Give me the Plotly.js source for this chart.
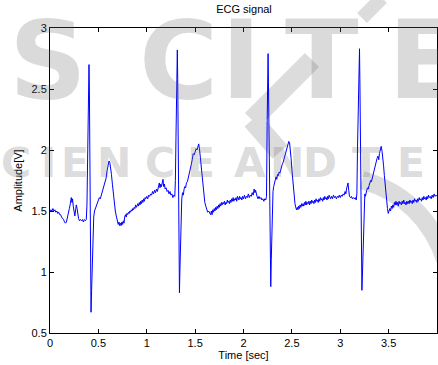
<!DOCTYPE html>
<html>
<head>
<meta charset="utf-8">
<script src="https://cdn.plot.ly/plotly-3.0.1.min.js"></script>
<style>html,body{margin:0;padding:0;background:#fff;}#chart{width:438px;height:365px;}</style>
</head>
<body>
<div id="chart"></div>
<script>
// ECG samples: [time (s), amplitude (V)]
const beat1Samples = [
[0.000,1.50],[0.010,1.51],[0.020,1.50],[0.030,1.52],[0.040,1.50],[0.050,1.51],[0.060,1.49],[0.070,1.50],[0.080,1.48],[0.090,1.49],
[0.100,1.47],[0.110,1.47],[0.120,1.45],[0.130,1.44],[0.140,1.43],[0.150,1.41],[0.160,1.40],[0.170,1.41],[0.180,1.44],[0.190,1.48],
[0.200,1.52],[0.210,1.56],[0.220,1.61],[0.227,1.57],[0.233,1.60],[0.240,1.54],[0.250,1.50],[0.257,1.46],[0.265,1.51],[0.272,1.55],
[0.280,1.52],[0.288,1.47],[0.295,1.44],[0.305,1.42],[0.315,1.43],[0.325,1.42],[0.335,1.43],[0.345,1.41],[0.355,1.43],[0.365,1.42],
[0.375,1.43],[0.382,1.55],[0.387,1.96],[0.394,2.40],[0.398,2.45],[0.403,2.70],[0.407,2.50],[0.411,2.00],[0.416,1.30],[0.420,1.00],
[0.424,0.67],[0.430,0.85],[0.437,1.13],[0.445,1.32],[0.452,1.45],[0.460,1.50],[0.470,1.52],[0.480,1.55],[0.490,1.57],[0.500,1.58],
[0.510,1.61],[0.520,1.60],[0.530,1.63],[0.540,1.65],[0.550,1.68],[0.560,1.71],[0.570,1.74],[0.580,1.77],[0.590,1.83],[0.600,1.88],
[0.610,1.91],[0.618,1.90],[0.626,1.86],[0.635,1.80],[0.645,1.72],[0.655,1.63],[0.665,1.56],[0.675,1.50],[0.685,1.46],[0.695,1.42],
[0.705,1.39],[0.713,1.41],[0.720,1.38],[0.728,1.40],[0.735,1.38],[0.743,1.41],[0.750,1.39],[0.758,1.42],[0.765,1.40],[0.772,1.45],
[0.780,1.47],[0.788,1.45],[0.795,1.48],[0.803,1.47],[0.810,1.49],[0.818,1.48],[0.825,1.50],[0.833,1.49],[0.840,1.51],[0.848,1.50],
[0.855,1.52],[0.863,1.51],[0.870,1.53],[0.878,1.52],[0.885,1.55],[0.893,1.53],[0.900,1.54],[0.908,1.56],[0.915,1.54],[0.923,1.57],
[0.930,1.55],[0.938,1.58],[0.945,1.56],[0.953,1.59],[0.960,1.57],[0.968,1.60],[0.975,1.58],[0.983,1.61],[0.990,1.60]
];
const beat2Samples = [
[1.000,1.62],[1.010,1.60],[1.020,1.63],[1.030,1.62],[1.040,1.64],[1.050,1.63],[1.060,1.66],[1.070,1.64],[1.080,1.67],[1.090,1.65],
[1.100,1.68],[1.110,1.66],[1.120,1.70],[1.130,1.73],[1.137,1.69],[1.145,1.72],[1.152,1.70],[1.160,1.74],[1.168,1.76],[1.175,1.70],
[1.183,1.72],[1.190,1.68],[1.200,1.69],[1.210,1.66],[1.220,1.67],[1.230,1.64],[1.240,1.66],[1.250,1.63],[1.260,1.64],[1.270,1.61],
[1.280,1.63],[1.290,1.62],[1.296,1.75],[1.302,2.10],[1.308,2.55],[1.312,2.65],[1.316,2.82],[1.320,2.58],[1.324,2.00],[1.328,1.45],
[1.333,1.05],[1.338,0.83],[1.344,1.05],[1.350,1.29],[1.356,1.50],[1.362,1.60],[1.370,1.65],[1.378,1.63],[1.386,1.68],[1.394,1.70],
[1.402,1.69],[1.410,1.73],[1.420,1.74],[1.430,1.77],[1.440,1.80],[1.450,1.84],[1.460,1.88],[1.470,1.92],[1.480,1.97],[1.490,1.96],
[1.500,1.99],[1.510,2.01],[1.520,2.00],[1.530,2.04],[1.537,2.05],[1.545,2.01],[1.553,1.95],[1.562,1.87],[1.570,1.79],[1.580,1.70],
[1.590,1.62],[1.600,1.57],[1.610,1.54],[1.620,1.51],[1.630,1.49],[1.640,1.50],[1.650,1.48],[1.660,1.47],[1.668,1.50],[1.675,1.47],
[1.683,1.51],[1.690,1.49],[1.698,1.52],[1.705,1.50],[1.713,1.53],[1.720,1.51],[1.728,1.54],[1.735,1.52],[1.743,1.55],[1.750,1.53],
[1.758,1.56],[1.765,1.54],[1.773,1.57],[1.780,1.55],[1.788,1.57],[1.795,1.56],[1.803,1.58],[1.810,1.55],[1.818,1.57],[1.825,1.56],
[1.833,1.59],[1.840,1.57],[1.848,1.58],[1.855,1.56],[1.863,1.59],[1.870,1.57],[1.878,1.60],[1.885,1.58],[1.893,1.61],[1.900,1.58],
[1.908,1.60],[1.915,1.59],[1.923,1.61],[1.930,1.58],[1.938,1.62],[1.945,1.60],[1.953,1.59],[1.960,1.62],[1.968,1.60],[1.975,1.61],
[1.983,1.59],[1.990,1.62]
];
const beat3Samples = [
[2.000,1.60],[2.010,1.63],[2.020,1.60],[2.030,1.62],[2.040,1.61],[2.050,1.64],[2.060,1.61],[2.070,1.63],[2.080,1.62],[2.090,1.65],
[2.100,1.63],[2.110,1.68],[2.118,1.65],[2.125,1.67],[2.133,1.63],[2.140,1.62],[2.150,1.60],[2.160,1.62],[2.170,1.60],[2.180,1.61],
[2.190,1.59],[2.200,1.60],[2.210,1.58],[2.220,1.60],[2.230,1.59],[2.238,1.62],[2.244,2.20],[2.248,2.60],[2.251,2.66],[2.254,2.79],
[2.258,2.55],[2.263,2.09],[2.268,1.70],[2.273,1.37],[2.278,1.10],[2.282,0.88],[2.287,1.10],[2.292,1.37],[2.298,1.55],[2.305,1.66],
[2.312,1.70],[2.320,1.73],[2.328,1.75],[2.336,1.78],[2.344,1.76],[2.352,1.80],[2.360,1.79],[2.368,1.82],[2.376,1.81],[2.384,1.84],
[2.392,1.86],[2.400,1.88],[2.410,1.90],[2.420,1.93],[2.430,1.96],[2.440,1.99],[2.450,2.02],[2.460,2.05],[2.468,2.07],[2.476,2.06],
[2.484,2.01],[2.492,1.93],[2.500,1.84],[2.508,1.76],[2.516,1.68],[2.524,1.61],[2.532,1.56],[2.540,1.53],[2.548,1.51],[2.556,1.53],
[2.563,1.51],[2.570,1.54],[2.578,1.52],[2.585,1.55],[2.593,1.53],[2.600,1.56],[2.608,1.54],[2.615,1.56],[2.623,1.54],[2.630,1.57],
[2.638,1.55],[2.645,1.58],[2.653,1.55],[2.660,1.57],[2.668,1.56],[2.675,1.58],[2.683,1.55],[2.690,1.58],[2.698,1.56],[2.705,1.59],
[2.713,1.57],[2.720,1.58],[2.728,1.56],[2.735,1.59],[2.743,1.57],[2.750,1.60],[2.758,1.58],[2.765,1.59],[2.773,1.57],[2.780,1.60],
[2.788,1.58],[2.795,1.61],[2.803,1.59],[2.810,1.60],[2.818,1.58],[2.825,1.61],[2.833,1.59],[2.840,1.62],[2.848,1.60],[2.855,1.61],
[2.863,1.59],[2.870,1.62],[2.878,1.60],[2.885,1.63],[2.893,1.61],[2.900,1.60],[2.910,1.62],[2.920,1.60],[2.930,1.63],[2.940,1.61],
[2.950,1.62],[2.960,1.60],[2.970,1.62],[2.980,1.61],[2.990,1.63]
];
const beat4Samples = [
[3.000,1.61],[3.010,1.63],[3.020,1.62],[3.030,1.64],[3.040,1.63],[3.050,1.66],[3.058,1.64],[3.065,1.68],[3.072,1.70],[3.080,1.73],
[3.088,1.67],[3.095,1.62],[3.105,1.61],[3.115,1.62],[3.125,1.60],[3.135,1.61],[3.145,1.60],[3.155,1.61],[3.165,1.59],[3.172,1.64],
[3.178,2.00],[3.184,2.30],[3.190,2.60],[3.195,2.70],[3.199,2.83],[3.203,2.58],[3.208,2.00],[3.213,1.50],[3.218,1.15],[3.224,0.85],
[3.230,1.00],[3.236,1.20],[3.242,1.40],[3.248,1.58],[3.254,1.64],[3.260,1.62],[3.266,1.66],[3.274,1.67],[3.282,1.69],[3.290,1.68],
[3.298,1.71],[3.306,1.73],[3.314,1.75],[3.322,1.74],[3.330,1.77],[3.340,1.80],[3.350,1.82],[3.360,1.86],[3.370,1.89],[3.380,1.93],
[3.390,1.95],[3.398,1.92],[3.405,1.97],[3.413,1.99],[3.423,2.03],[3.432,1.99],[3.440,1.94],[3.448,1.87],[3.456,1.79],[3.464,1.71],
[3.472,1.63],[3.480,1.57],[3.488,1.52],[3.496,1.48],[3.504,1.50],[3.512,1.52],[3.520,1.50],[3.528,1.54],[3.536,1.52],[3.544,1.55],
[3.552,1.53],[3.560,1.57],[3.568,1.55],[3.576,1.58],[3.584,1.55],[3.592,1.57],[3.600,1.54],[3.608,1.58],[3.616,1.56],[3.624,1.57],
[3.632,1.55],[3.640,1.58],[3.648,1.56],[3.656,1.59],[3.664,1.56],[3.672,1.57],[3.680,1.55],[3.688,1.58],[3.696,1.56],[3.704,1.58],
[3.712,1.56],[3.720,1.59],[3.728,1.57],[3.736,1.58],[3.744,1.56],[3.752,1.59],[3.760,1.57],[3.768,1.60],[3.776,1.58],[3.784,1.59],
[3.792,1.57],[3.800,1.60],[3.808,1.58],[3.816,1.61],[3.824,1.59],[3.832,1.60],[3.840,1.58],[3.848,1.61],[3.856,1.59],[3.864,1.62],
[3.872,1.60],[3.880,1.61],[3.888,1.59],[3.896,1.62],[3.904,1.60],[3.912,1.63],[3.920,1.61],[3.930,1.62],[3.940,1.60],[3.950,1.63],
[3.960,1.61],[3.970,1.64],[3.980,1.62],[3.990,1.63],[4.000,1.62]
];
const xTicks = [0, 0.5, 1, 1.5, 2, 2.5, 3, 3.5, 4];
const xTickLabels = ['0', '0.5', '1', '1.5', '2', '2.5', '3', '3.5', '4'];
const yTicks = [0.5, 1, 1.5, 2, 2.5, 3];
const yTickLabels = ['0.5', '1', '1.5', '2', '2.5', '3'];

const samples = [].concat(beat1Samples, beat2Samples, beat3Samples, beat4Samples);
const time = samples.map(p => p[0]);
const amp = samples.map(p => p[1]);

// Page geometry (pixels) for the background watermark
const M = {l: 50, r: 1, t: 28, b: 32};
const W = 438, H = 365;
const PW = W - M.l - M.r, PH = H - M.t - M.b;
const px = p => (p - M.l) / PW;
const py = p => (H - M.b - p) / PH;
const wmColor = 'rgba(100,100,100,0.24)';
const wmLine = '#dcdcdc';
const wmFont = 'DejaVu Sans';

const bigLetters = [['S', 48], ['C', 178], ['I', 241], ['T', 322], ['E', 425]];
const smallLetters = [['S', -22], ['C', 16], ['I', 48], ['E', 75], ['N', 114], ['C', 160], ['E', 201],
                      ['A', 250], ['N', 287], ['D', 320], ['T', 366], ['E', 411]];
const annotations = [];
bigLetters.forEach(([ch, cx]) => annotations.push({
  text: ch, x: px(cx), y: py(60), xref: 'paper', yref: 'paper', xanchor: 'center', yanchor: 'middle',
  height: 88, valign: 'middle',
  showarrow: false, font: {family: wmFont, size: 108, color: wmColor, weight: 'bold'}
}));
smallLetters.forEach(([ch, cx]) => annotations.push({
  text: ch, x: px(cx), y: py(163), xref: 'paper', yref: 'paper', xanchor: 'center', yanchor: 'middle',
  showarrow: false, font: {family: wmFont, size: 41, color: wmColor, weight: 'bold'}
}));

const seg = (x0, y0, x1, y1, w) => ({type: 'line', xref: 'paper', yref: 'paper', layer: 'below',
  x0: px(x0), y0: py(y0), x1: px(x1), y1: py(y1), line: {color: wmLine, width: w}});
const shapes = [
  seg(312, 60, 252, 120, 20),
  seg(252, 120, 280, 152, 20),
  seg(362, 18, 382, -2, 14),
  {type: 'path', xref: 'paper', yref: 'paper', layer: 'below',
   path: 'M ' + px(362) + ',' + py(180) + ' Q ' + px(425) + ',' + py(198) + ' ' + px(446) + ',' + py(262),
   line: {color: wmLine, width: 18}}
];

const font = 'Liberation Sans, Arial, sans-serif';
const axisCommon = {
  showgrid: false, zeroline: false, showline: true, linecolor: '#000', linewidth: 1,
  mirror: 'ticks', ticks: 'inside', ticklen: 4, tickcolor: '#000', tickwidth: 1,
  tickfont: {family: font, size: 11, color: '#000'}
};

Plotly.newPlot('chart', [{
  x: time, y: amp, type: 'scatter', mode: 'lines',
  line: {color: '#0000ff', width: 1}, hoverinfo: 'skip'
}], {
  width: W, height: H,
  margin: M,
  paper_bgcolor: '#ffffff',
  plot_bgcolor: 'rgba(0,0,0,0)',
  showlegend: false,
  title: {text: 'ECG signal', font: {family: font, size: 11, color: '#000'},
          x: px(244), xref: 'paper', xanchor: 'center', y: 1 - 9 / H, yref: 'container', yanchor: 'middle'},
  xaxis: Object.assign({}, axisCommon, {
    range: [0, 4], tickvals: xTicks, ticktext: xTickLabels,
    title: {text: 'Time [sec]', font: {family: font, size: 11, color: '#000'}, standoff: 2}
  }),
  yaxis: Object.assign({}, axisCommon, {
    range: [0.5, 3], tickvals: yTicks, ticktext: yTickLabels,
    title: {text: 'Amplitude[V]', font: {family: font, size: 11, color: '#000'}, standoff: 6}
  }),
  shapes: shapes,
  annotations: annotations
}, {staticPlot: true, displayModeBar: false});
</script>
</body>
</html>
